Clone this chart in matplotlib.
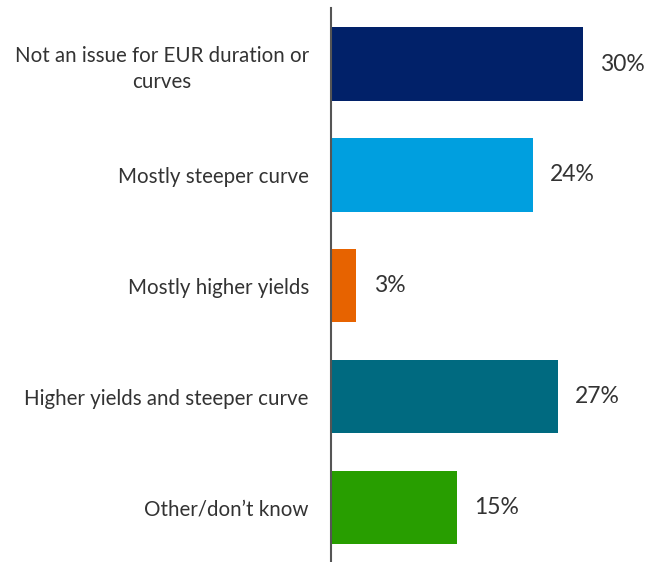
import matplotlib.pyplot as plt

categories = [
    "Not an issue for EUR duration or\ncurves",
    "Mostly steeper curve",
    "Mostly higher yields",
    "Higher yields and steeper curve",
    "Other/don\u2019t know",
]
shares = [30, 24, 3, 27, 15]
colors = ["#012169", "#009FDF", "#E76300", "#006A80", "#289E00"]

plt.rcParams["font.family"] = ["Lato", "DejaVu Sans"]

fig = plt.figure(figsize=(6.61, 5.62), dpi=100)
ax = fig.add_axes([331 / 661, 0, 330 / 661, 554 / 562])

y = range(len(categories))
ax.barh(y, shares, height=0.66, color=colors)

for yi, v in zip(y, shares):
    ax.annotate(f"{v}%", (v, yi), xytext=(12.5, 0), textcoords="offset points",
                va="center", ha="left", fontsize=16.5, color="#333333")

ax.set_xlim(0, 330 / 8.4)
ax.set_ylim(4.49, -0.505)
ax.set_yticks(list(y))
ax.set_yticklabels(categories, fontsize=14.8, color="#333333",
                   linespacing=1.4)
ax.tick_params(axis="y", length=0, pad=16)
for lab in ax.get_yticklabels():
    lab.set_multialignment("center")
ax.set_xticks([])

for side in ["top", "right", "bottom"]:
    ax.spines[side].set_visible(False)
ax.spines["left"].set_color("#555555")
ax.spines["left"].set_linewidth(1.5)

fig.savefig("out.png", dpi=100)
